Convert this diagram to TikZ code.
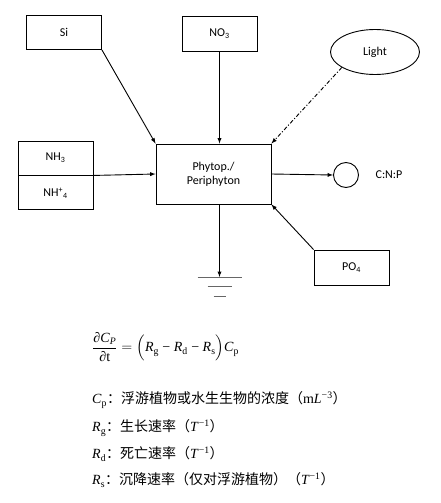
\documentclass[tikz,border=0pt]{standalone}
\usepackage{amsmath}
\usepackage{fontspec}
\setmainfont{Liberation Serif}
\newfontfamily\labelfont{Carlito}
\newfontfamily\cjkfont{Noto Sans CJK SC}
\usetikzlibrary{shapes,shapes.geometric,arrows,positioning}
\newcommand{\cn}[1]{{\cjkfont #1}}
\newcommand{\rate}[2]{\textit{#1}\textsubscript{#2}}

\begin{document}
\begin{tikzpicture}[
    x=1pt, y=-1pt,
    box/.style={draw, line width=0.9pt, minimum width=75pt, minimum height=34pt,
                font=\labelfont\fontsize{12}{14}\selectfont},
    arrow/.style={->, >=latex, line width=0.9pt},
    txt/.style={anchor=west, inner sep=0pt, font=\fontsize{14}{16}\selectfont}
]
\useasboundingbox (0,0) rectangle (440,503);
% Sources and the central compartment
\node[box] (si) at (64,32.5) {Si};
\node[box, minimum height=35pt] (no3) at (219.5,33.5) {NO\textsubscript{3}};
\node[box, ellipse, minimum width=89pt, minimum height=45pt] (light) at (375,52) {Light};
\node[box, minimum width=115pt, minimum height=60pt, align=center] (phyto) at (213.5,174) {Phytop./\\Periphyton};
\node[box] (nh3) at (55.5,158) {NH\textsubscript{3}};
\node[box, below=0pt of nh3] (nh4) {NH\textsuperscript{+}\textsubscript{4}};
\node[box, minimum height=35pt] (po4) at (351.5,267.5) {PO\textsubscript{4}};
\node[draw, circle, line width=0.9pt, minimum size=25pt, inner sep=0pt] (cnp) at (346,175) {};
\node[font=\labelfont\fontsize{12}{14}\selectfont] (ratio) at (389,175) {C:N:P};
\coordinate (gnd) at (219.5,277);
% Arrows into and out of the compartment
\draw[arrow] (si.south east) -- (phyto.north west);
\draw[arrow] (no3.south) -- (no3.south |- phyto.north);
\draw[arrow, dash pattern=on 4pt off 2pt on 1pt off 2pt] (light.205) -- (phyto.north east);
\draw[arrow] (nh3.south east) -- (phyto.west);
\draw[arrow] (po4.north west) -- (phyto.south east);
\draw[arrow] (phyto.east) -- (cnp.west);
\draw[arrow] (gnd |- phyto.south) -- (gnd);
% Ground
\draw[black!60, line width=1pt] ([xshift=-22pt]gnd) -- ([xshift=22pt]gnd);
\draw[black!60, line width=1pt] ([xshift=-12pt,yshift=-9.5pt]gnd) -- ([xshift=12pt,yshift=-9.5pt]gnd);
\draw[black!60, line width=1pt] ([xshift=-6pt,yshift=-19pt]gnd) -- ([xshift=6pt,yshift=-19pt]gnd);
% Equation and legend
\node[txt] (eq) at (92,347) {$\dfrac{\mbox{\fontsize{14}{16}\selectfont ∂\textit{C}\textsubscript{\textit{P}}}}{\mbox{\fontsize{14}{16}\selectfont ∂t}}=\Bigl(\mbox{\rate{R}{g} − \rate{R}{d} − \rate{R}{s}}\Bigr)\mbox{\rate{C}{p}}$};
\node[txt] (cp) at (92,400) {\rate{C}{p}\cn{：浮游植物或水生生物的浓度（}m\textit{L}\textsuperscript{−3}\cn{）}};
\node[txt] (rg) at (92,428) {\rate{R}{g}\cn{：生长速率（}\textit{T}\textsuperscript{−1}\cn{）}};
\node[txt] (rd) at (92,454) {\rate{R}{d}\cn{：死亡速率（}\textit{T}\textsuperscript{−1}\cn{）}};
\node[txt] (rs) at (92,480) {\rate{R}{s}\cn{：沉降速率（仅对浮游植物）（}\textit{T}\textsuperscript{−1}\cn{）}};
\end{tikzpicture}
\end{document}
